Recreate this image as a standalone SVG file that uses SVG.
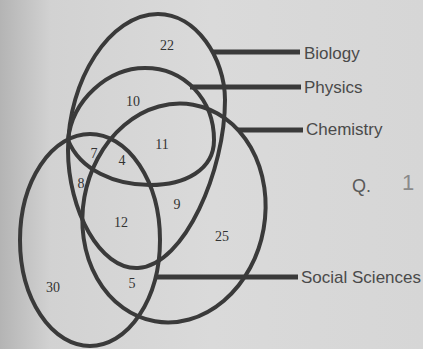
<svg xmlns="http://www.w3.org/2000/svg" width="423" height="349" viewBox="0 0 423 349">
<defs>
<linearGradient id="bg" x1="0" y1="0" x2="1" y2="0">
<stop offset="0" stop-color="#b4b4b4"/>
<stop offset="0.12" stop-color="#d2d2d2"/>
<stop offset="0.5" stop-color="#dadada"/>
<stop offset="1" stop-color="#d6d6d6"/>
</linearGradient>
<style>
.set{fill:none;stroke:#3a3a3a;stroke-width:4}
.lead{stroke:#3a3a3a;stroke-width:5;fill:none}
.num{font-family:"Liberation Serif",serif;font-size:14px;fill:#333333;text-anchor:middle}
.lab{font-family:"Liberation Sans",sans-serif;font-size:17px;fill:#4a4a4a}
</style>
</defs>
<rect width="423" height="349" fill="url(#bg)"/>
<g id="biology">
<path class="set" d="M158,14 C196,14 225,58 225,100 C225,170 185,265 138,268 C100,270 68,210 68,150 C68,80 110,14 158,14 Z"/>
</g>
<g id="physics">
<path class="set" d="M68,140 C72,100 108,68 145,68 C185,68 214,100 214,140 C214,170 185,185 150,185 C115,185 80,170 68,140 Z"/>
</g>
<g id="chemistry">
<ellipse class="set" cx="174" cy="213" rx="91" ry="110" transform="rotate(10 174 213)"/>
</g>
<g id="social-sciences">
<ellipse class="set" cx="90" cy="240" rx="70" ry="106"/>
</g>
<g id="connectors">
<path class="lead" d="M213,52 H300"/>
<path class="lead" d="M190,87 H301"/>
<path class="lead" d="M238,130 H303"/>
<path class="lead" d="M155,277 H298"/>
</g>
<g id="labels">
<text class="lab" x="304" y="59">Biology</text>
<text class="lab" x="304" y="93">Physics</text>
<text class="lab" x="306" y="135">Chemistry</text>
<text class="lab" x="301" y="283" font-size="18">Social Sciences</text>
</g>
<g id="counts">
<text class="num" x="167" y="50">22</text>
<text class="num" x="133" y="106">10</text>
<text class="num" x="162" y="149">11</text>
<text class="num" x="94" y="158">7</text>
<text class="num" x="122" y="165">4</text>
<text class="num" x="81" y="188">8</text>
<text class="num" x="121" y="227">12</text>
<text class="num" x="177" y="209">9</text>
<text class="num" x="222" y="241">25</text>
<text class="num" x="53" y="292">30</text>
<text class="num" x="132" y="288">5</text>
</g>
<g id="margin">
<text x="352" y="192" font-family="Liberation Sans, sans-serif" font-size="18" fill="#5a5a5a">Q.</text>
<text x="402" y="190" font-family="Liberation Sans, sans-serif" font-size="22" fill="#8a8a8a">1</text>
</g>
</svg>
